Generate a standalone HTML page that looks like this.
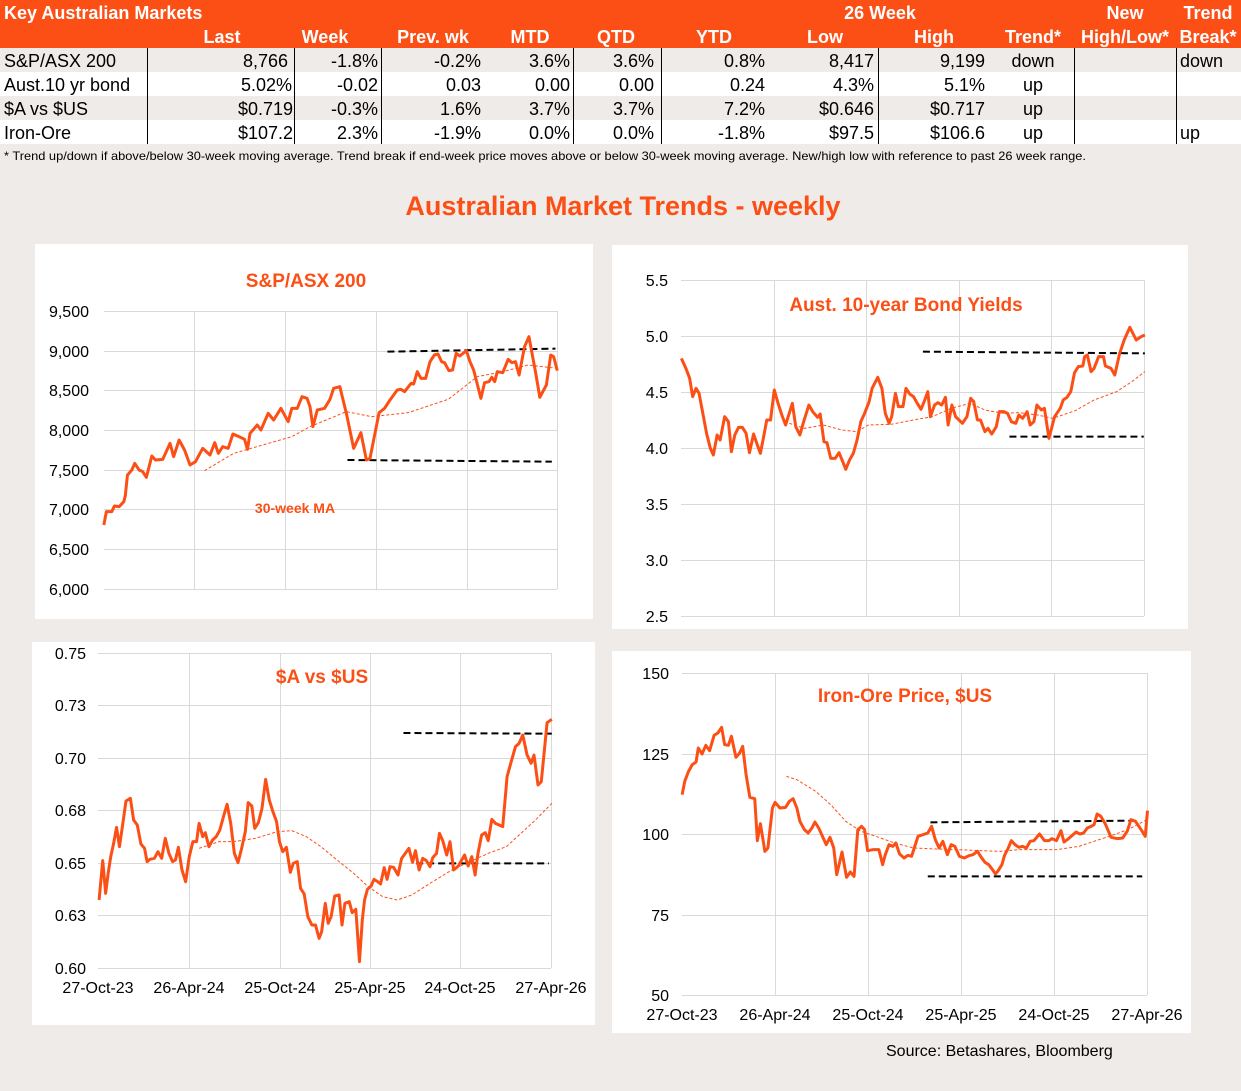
<!DOCTYPE html>
<html><head><meta charset="utf-8"><style>
html,body{margin:0;padding:0;background:#efebe8;}
svg{display:block;font-family:"Liberation Sans",Arial,sans-serif;}
.ln{fill:none;stroke:#fc4f16;stroke-width:3;stroke-linejoin:round;}
.ma{fill:none;stroke:#fc4f16;stroke-width:1;stroke-dasharray:3 2;}
.bk{fill:none;stroke:#000;stroke-width:2;stroke-dasharray:7 4;}
.gr{stroke:#d9d9d9;stroke-width:1;fill:none;}
.yl{font-size:16px;fill:#000;text-anchor:end;}
.xl{font-size:16px;fill:#000;text-anchor:middle;}
.tt{font-size:19px;font-weight:bold;fill:#fc4f16;text-anchor:middle;}
.h{font-size:18px;font-weight:bold;fill:#fff;}
.d{font-size:18px;fill:#000;}
</style></head><body>
<svg width="1241" height="1091" viewBox="0 0 1241 1091">
<rect width="1241" height="1091" fill="#efebe8"/>
<!-- Table -->
<rect x="0" y="0" width="1241" height="48" fill="#fc4f16"/>
<rect x="0" y="48" width="1241" height="24" fill="#efebe8"/>
<rect x="0" y="72" width="1241" height="24" fill="#fff"/>
<rect x="0" y="96" width="1241" height="24" fill="#efebe8"/>
<rect x="0" y="120" width="1241" height="24" fill="#fff"/>
<g stroke="#000" stroke-width="1">
<line x1="147.5" y1="48" x2="147.5" y2="144"/><line x1="294.5" y1="48" x2="294.5" y2="144"/>
<line x1="381.5" y1="48" x2="381.5" y2="144"/><line x1="573.5" y1="48" x2="573.5" y2="144"/>
<line x1="661.5" y1="48" x2="661.5" y2="144"/><line x1="878.5" y1="48" x2="878.5" y2="144"/>
<line x1="1074.5" y1="48" x2="1074.5" y2="144"/><line x1="1176.5" y1="48" x2="1176.5" y2="144"/>
</g>
<text class="h" x="4" y="19">Key Australian Markets</text>
<text class="h" x="880" y="19" text-anchor="middle">26 Week</text>
<text class="h" x="1125" y="19" text-anchor="middle">New</text>
<text class="h" x="1208" y="19" text-anchor="middle">Trend</text>
<g class="h" text-anchor="middle">
<text x="222" y="43">Last</text><text x="325" y="43">Week</text><text x="433" y="43">Prev. wk</text>
<text x="530" y="43">MTD</text><text x="616" y="43">QTD</text><text x="714" y="43">YTD</text>
<text x="825" y="43">Low</text><text x="934" y="43">High</text><text x="1033" y="43">Trend*</text>
<text x="1125" y="43">High/Low*</text><text x="1208" y="43">Break*</text>
</g>
<g class="d">
<text x="4" y="67">S&amp;P/ASX 200</text><text x="4" y="91">Aust.10 yr bond</text><text x="4" y="115">$A vs $US</text><text x="4" y="139">Iron-Ore</text>
<g text-anchor="end">
<text x="288" y="67">8,766</text><text x="378" y="67">-1.8%</text><text x="481" y="67">-0.2%</text><text x="570" y="67">3.6%</text><text x="654" y="67">3.6%</text><text x="765" y="67">0.8%</text><text x="874" y="67">8,417</text><text x="985" y="67">9,199</text>
<text x="292" y="91">5.02%</text><text x="378" y="91">-0.02</text><text x="481" y="91">0.03</text><text x="570" y="91">0.00</text><text x="654" y="91">0.00</text><text x="765" y="91">0.24</text><text x="874" y="91">4.3%</text><text x="985" y="91">5.1%</text>
<text x="293" y="115">$0.719</text><text x="378" y="115">-0.3%</text><text x="481" y="115">1.6%</text><text x="570" y="115">3.7%</text><text x="654" y="115">3.7%</text><text x="765" y="115">7.2%</text><text x="874" y="115">$0.646</text><text x="985" y="115">$0.717</text>
<text x="293" y="139">$107.2</text><text x="378" y="139">2.3%</text><text x="481" y="139">-1.9%</text><text x="570" y="139">0.0%</text><text x="654" y="139">0.0%</text><text x="765" y="139">-1.8%</text><text x="874" y="139">$97.5</text><text x="985" y="139">$106.6</text>
</g>
<g text-anchor="middle"><text x="1033" y="67">down</text><text x="1033" y="91">up</text><text x="1033" y="115">up</text><text x="1033" y="139">up</text></g>
<text x="1180" y="67">down</text><text x="1180" y="139">up</text>
</g>
<text x="4" y="160" font-size="12" fill="#000" textLength="1082" lengthAdjust="spacingAndGlyphs">*  Trend up/down if above/below 30-week moving average. Trend break if end-week price moves above or below 30-week moving average.  New/high low with reference to past 26 week range.</text>
<text x="623" y="215" text-anchor="middle" font-size="27" font-weight="bold" fill="#fc4f16">Australian Market Trends - weekly</text>

<!-- Chart 1 S&P -->
<rect x="35" y="244" width="558" height="375" fill="#fff"/>
<g class="gr">
<line x1="104" y1="311.5" x2="557" y2="311.5"/><line x1="104" y1="351.5" x2="557" y2="351.5"/><line x1="104" y1="390.5" x2="557" y2="390.5"/><line x1="104" y1="430.5" x2="557" y2="430.5"/><line x1="104" y1="470.5" x2="557" y2="470.5"/><line x1="104" y1="509.5" x2="557" y2="509.5"/><line x1="104" y1="549.5" x2="557" y2="549.5"/><line x1="104" y1="589.5" x2="557" y2="589.5"/>
<line x1="194.5" y1="311" x2="194.5" y2="589"/><line x1="285.5" y1="311" x2="285.5" y2="589"/><line x1="376.5" y1="311" x2="376.5" y2="589"/><line x1="467.5" y1="311" x2="467.5" y2="589"/><line x1="557.5" y1="311" x2="557.5" y2="589"/>
</g>
<g class="yl"><text x="89" y="317">9,500</text><text x="89" y="357">9,000</text><text x="89" y="396">8,500</text><text x="89" y="436">8,000</text><text x="89" y="476">7,500</text><text x="89" y="515">7,000</text><text x="89" y="555">6,500</text><text x="89" y="595">6,000</text></g>
<text class="tt" x="306" y="287">S&amp;P/ASX 200</text>
<text x="295" y="513" font-size="14" font-weight="bold" fill="#fc4f16" text-anchor="middle">30-week MA</text>
<g transform="translate(30,240) scale(0.36364,0.33333)">
<polyline class="ma" vector-effect="non-scaling-stroke" points="480,692 560,640 640,615 720,590 770,560 870,515 940,530 1040,518 1150,478 1230,410 1300,395 1370,375 1450,385"/>
<polyline class="bk" vector-effect="non-scaling-stroke" points="983,335 1445,326"/>
<polyline class="bk" vector-effect="non-scaling-stroke" points="873,660 1435,665"/>
<polyline class="ln" vector-effect="non-scaling-stroke" points="203,855 210,815 225,815 232,798 245,800 258,785 262,768 268,705 280,690 288,670 300,690 310,695 320,712 335,648 345,660 365,658 385,610 395,650 410,600 425,630 440,675 455,665 475,625 495,645 508,608 518,640 530,620 545,625 558,582 575,590 590,598 598,628 605,580 625,555 635,570 655,520 670,540 690,505 710,545 720,505 735,505 748,470 762,475 770,500 778,560 790,510 810,505 825,478 835,445 852,440 870,520 890,625 910,578 925,660 935,655 945,600 960,518 975,505 990,480 1010,450 1020,448 1030,455 1048,430 1055,432 1065,395 1075,415 1088,415 1100,365 1112,345 1122,342 1132,365 1140,368 1152,392 1162,390 1172,340 1182,348 1200,332 1210,365 1220,390 1240,475 1250,428 1262,425 1270,412 1278,425 1285,395 1300,398 1315,358 1325,368 1335,365 1345,405 1360,320 1372,290 1390,395 1402,472 1420,435 1432,345 1440,350 1450,392"/>
</g>

<!-- Chart 2 Bond -->
<rect x="612" y="245" width="576" height="384" fill="#fff"/>
<g class="gr">
<line x1="681" y1="280.5" x2="1144" y2="280.5"/><line x1="681" y1="336.5" x2="1144" y2="336.5"/><line x1="681" y1="392.5" x2="1144" y2="392.5"/><line x1="681" y1="448.5" x2="1144" y2="448.5"/><line x1="681" y1="504.5" x2="1144" y2="504.5"/><line x1="681" y1="560.5" x2="1144" y2="560.5"/><line x1="681" y1="616.5" x2="1144" y2="616.5"/>
<line x1="774.5" y1="280" x2="774.5" y2="616"/><line x1="866.5" y1="280" x2="866.5" y2="616"/><line x1="959.5" y1="280" x2="959.5" y2="616"/><line x1="1051.5" y1="280" x2="1051.5" y2="616"/><line x1="1144.5" y1="280" x2="1144.5" y2="616"/>
</g>
<g class="yl"><text x="668" y="286">5.5</text><text x="668" y="342">5.0</text><text x="668" y="398">4.5</text><text x="668" y="454">4.0</text><text x="668" y="510">3.5</text><text x="668" y="566">3.0</text><text x="668" y="622">2.5</text></g>
<text class="tt" x="906" y="311">Aust. 10-year Bond Yields</text>
<g transform="translate(605,240) scale(0.37622,0.33333)">
<polyline class="ma" vector-effect="non-scaling-stroke" points="490,550 530,565 580,555 630,570 670,575 700,555 760,553 820,540 870,530 920,505 970,490 1010,510 1060,520 1100,518 1150,525 1190,535 1250,512 1300,480 1360,455 1400,425 1435,395"/>
<polyline class="bk" vector-effect="non-scaling-stroke" points="845,335 1435,340"/>
<polyline class="bk" vector-effect="non-scaling-stroke" points="1075,590 1432,590"/>
<polyline class="ln" vector-effect="non-scaling-stroke" points="203,355 215,385 225,415 233,470 242,445 250,460 260,520 270,580 280,625 288,645 298,585 306,600 318,530 328,545 336,635 345,585 355,562 365,562 375,580 384,638 395,582 405,615 413,640 420,600 430,540 440,540 450,450 460,490 470,525 480,555 498,490 507,560 518,585 528,545 542,495 552,515 565,532 572,522 582,605 590,608 600,655 612,655 622,638 632,665 640,688 650,660 660,640 670,600 680,545 690,520 702,485 710,445 725,412 736,445 745,520 755,550 762,530 772,460 780,500 792,500 800,445 810,462 820,470 830,490 840,508 850,480 858,455 865,530 876,495 885,488 895,495 905,472 912,555 922,495 932,530 950,550 962,530 972,475 980,485 990,540 998,540 1010,575 1018,565 1028,582 1040,560 1048,515 1060,515 1070,520 1080,545 1092,550 1100,525 1110,535 1122,515 1130,555 1140,545 1148,495 1160,510 1168,505 1180,595 1195,530 1210,505 1218,480 1228,472 1238,455 1248,398 1258,380 1270,378 1275,350 1282,345 1292,395 1300,385 1312,350 1325,350 1330,378 1345,385 1355,405 1368,340 1380,300 1395,262 1412,300 1425,290 1435,285"/>
</g>

<!-- Chart 3 $A -->
<rect x="32" y="642" width="563" height="383" fill="#fff"/>
<g class="gr">
<line x1="98" y1="653.5" x2="551" y2="653.5"/><line x1="98" y1="705.5" x2="551" y2="705.5"/><line x1="98" y1="758.5" x2="551" y2="758.5"/><line x1="98" y1="810.5" x2="551" y2="810.5"/><line x1="98" y1="863.5" x2="551" y2="863.5"/><line x1="98" y1="915.5" x2="551" y2="915.5"/><line x1="98" y1="968.5" x2="551" y2="968.5"/>
<line x1="189.5" y1="653" x2="189.5" y2="968"/><line x1="280.5" y1="653" x2="280.5" y2="968"/><line x1="370.5" y1="653" x2="370.5" y2="968"/><line x1="460.5" y1="653" x2="460.5" y2="968"/><line x1="551.5" y1="653" x2="551.5" y2="968"/>
</g>
<g class="yl"><text x="86" y="659">0.75</text><text x="86" y="711">0.73</text><text x="86" y="764">0.70</text><text x="86" y="816">0.68</text><text x="86" y="869">0.65</text><text x="86" y="921">0.63</text><text x="86" y="974">0.60</text></g>
<g class="xl"><text x="98" y="993">27-Oct-23</text><text x="189" y="993">26-Apr-24</text><text x="280" y="993">25-Oct-24</text><text x="370" y="993">25-Apr-25</text><text x="460" y="993">24-Oct-25</text><text x="551" y="993">27-Apr-26</text></g>
<text class="tt" x="322" y="683">$A vs $US</text>
<g transform="translate(30,640) scale(0.36364,0.33333)">
<polyline class="ma" vector-effect="non-scaling-stroke" points="465,625 520,605 560,605 620,595 680,575 720,572 760,590 800,620 850,665 890,700 930,740 970,770 1010,780 1050,765 1100,730 1160,690 1210,665 1260,640 1310,620 1350,580 1390,540 1435,490"/>
<polyline class="bk" vector-effect="non-scaling-stroke" points="1027,279 1435,281"/>
<polyline class="bk" vector-effect="non-scaling-stroke" points="1062,670 1427,670"/>
<polyline class="ln" vector-effect="non-scaling-stroke" points="190,780 200,662 208,760 215,700 222,650 230,610 238,562 246,620 254,560 264,483 276,475 285,540 295,555 305,612 315,625 322,665 330,658 342,655 352,635 362,655 372,595 382,640 392,665 400,660 408,622 418,690 428,725 438,650 448,605 458,605 465,550 475,590 482,578 492,620 502,600 512,590 522,570 532,530 542,493 552,550 562,640 572,668 582,625 592,575 600,488 610,498 618,565 628,548 638,505 648,418 658,480 668,515 678,545 686,605 695,635 705,622 716,697 724,670 735,665 744,745 754,762 764,830 775,855 785,855 795,895 802,875 812,790 820,850 828,830 838,768 850,765 858,855 866,790 878,785 886,818 896,808 906,965 914,838 920,780 928,748 938,738 946,718 956,725 964,732 974,683 982,718 990,680 1000,682 1012,705 1022,655 1032,640 1042,625 1052,667 1060,632 1070,690 1080,655 1090,662 1100,680 1108,652 1118,640 1126,580 1135,602 1146,645 1155,605 1165,690 1178,678 1195,645 1205,678 1215,650 1224,705 1232,640 1242,585 1252,578 1260,602 1270,538 1280,550 1300,560 1312,410 1322,370 1335,320 1345,310 1355,285 1367,345 1378,370 1386,345 1397,435 1406,425 1422,248 1435,238"/>
</g>

<!-- Chart 4 Iron ore -->
<rect x="612" y="651" width="579" height="382" fill="#fff"/>
<g class="gr">
<line x1="682" y1="673.5" x2="1147" y2="673.5"/><line x1="682" y1="754.5" x2="1147" y2="754.5"/><line x1="682" y1="834.5" x2="1147" y2="834.5"/><line x1="682" y1="915.5" x2="1147" y2="915.5"/><line x1="682" y1="995.5" x2="1147" y2="995.5"/>
<line x1="775.5" y1="673" x2="775.5" y2="995"/><line x1="868.5" y1="673" x2="868.5" y2="995"/><line x1="961.5" y1="673" x2="961.5" y2="995"/><line x1="1054.5" y1="673" x2="1054.5" y2="995"/><line x1="1147.5" y1="673" x2="1147.5" y2="995"/>
</g>
<g class="yl"><text x="669" y="679">150</text><text x="669" y="760">125</text><text x="669" y="840">100</text><text x="669" y="921">75</text><text x="669" y="1001">50</text></g>
<g class="xl"><text x="682" y="1020">27-Oct-23</text><text x="775" y="1020">26-Apr-24</text><text x="868" y="1020">25-Oct-24</text><text x="961" y="1020">25-Apr-25</text><text x="1054" y="1020">24-Oct-25</text><text x="1147" y="1020">27-Apr-26</text></g>
<text class="tt" x="905" y="702">Iron-Ore Price, $US</text>
<g transform="translate(605,648) scale(0.37622,0.33333)">
<polyline class="ma" vector-effect="non-scaling-stroke" points="482,385 510,395 560,430 600,470 640,520 680,550 720,565 770,585 820,600 880,603 940,605 1000,608 1050,610 1100,605 1150,605 1200,605 1260,595 1300,580 1340,565 1390,545 1440,515"/>
<polyline class="bk" vector-effect="non-scaling-stroke" points="865,523 1410,518"/>
<polyline class="bk" vector-effect="non-scaling-stroke" points="858,685 1428,685"/>
<polyline class="ln" vector-effect="non-scaling-stroke" points="205,440 212,400 222,370 232,350 242,342 248,300 258,318 268,292 278,308 290,262 300,255 310,238 318,290 328,292 336,265 348,328 358,315 366,295 375,380 385,448 398,452 405,578 413,527 425,610 433,600 445,480 452,463 465,480 480,478 490,460 500,452 510,480 518,520 530,545 540,555 550,540 558,522 568,540 580,570 588,590 598,568 608,600 616,680 630,612 642,688 652,672 662,685 672,545 682,535 690,545 698,608 712,605 728,605 738,650 745,620 755,590 765,595 773,585 783,618 795,630 805,622 815,625 822,600 832,565 845,560 858,555 868,535 878,575 888,600 898,580 910,620 920,590 930,595 942,625 955,630 967,623 978,620 990,610 1000,628 1010,643 1020,650 1030,665 1038,678 1045,668 1055,650 1062,622 1072,600 1080,578 1090,590 1100,598 1110,595 1120,600 1130,580 1140,578 1155,558 1168,578 1180,578 1188,572 1200,578 1212,548 1220,582 1232,572 1242,562 1252,552 1262,558 1272,555 1282,540 1292,535 1300,530 1308,498 1318,505 1330,528 1345,568 1362,572 1376,570 1388,550 1398,515 1410,520 1425,545 1436,565 1442,488"/>
</g>
<text x="886" y="1056" font-size="16" fill="#000">Source:  Betashares, Bloomberg</text>
</svg>
</body></html>
